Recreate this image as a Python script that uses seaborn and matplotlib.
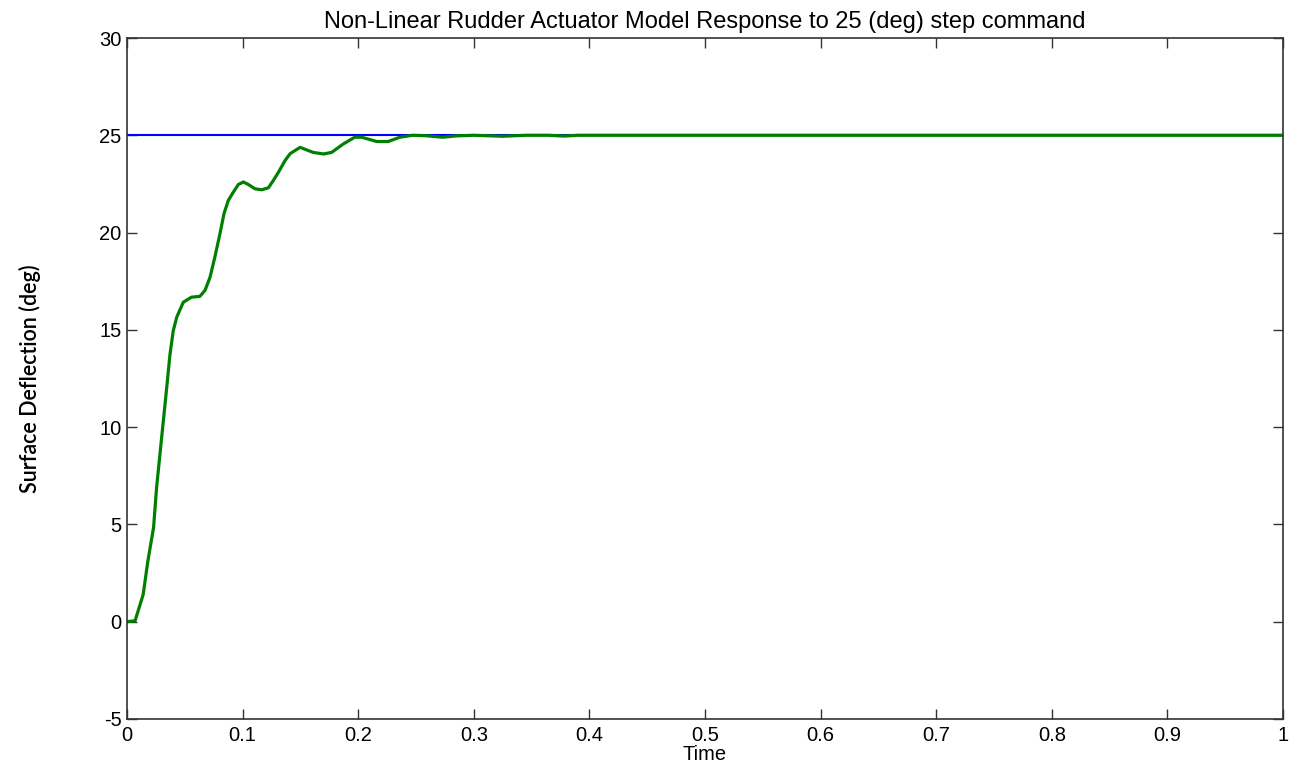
import matplotlib
matplotlib.use("Agg")
import matplotlib.pyplot as plt
import seaborn as sns
import pandas as pd

# Step command (deg)
cmd_time = [0.0, 1.0]
cmd_value = [25.0, 25.0]

# Actuator response (deg)
resp_time = [0.0, 0.007, 0.014, 0.018, 0.023, 0.0256, 0.0285, 0.0314, 0.0343,
             0.0372, 0.040, 0.043, 0.0487, 0.0558, 0.063, 0.0675, 0.0718, 0.076,
             0.0804, 0.0839, 0.0876, 0.092, 0.0963, 0.1007, 0.105, 0.1107,
             0.1165, 0.1223, 0.1266, 0.131, 0.1367, 0.141, 0.1497, 0.161, 0.170,
             0.177, 0.187, 0.197, 0.203, 0.216, 0.226, 0.236, 0.247, 0.258,
             0.273, 0.285, 0.300, 0.325, 0.345, 0.365, 0.378, 0.390, 1.0]
resp_value = [0.0, 0.05, 1.4, 3.1, 4.85, 6.9, 8.6, 10.3, 12.0,
              13.75, 14.95, 15.65, 16.42, 16.68, 16.72, 17.03, 17.7, 18.74,
              19.94, 20.97, 21.65, 22.08, 22.47, 22.6, 22.47, 22.25,
              22.2, 22.3, 22.68, 23.1, 23.7, 24.05, 24.38, 24.12, 24.04,
              24.12, 24.55, 24.9, 24.9, 24.68, 24.68, 24.9, 25.0, 24.98,
              24.9, 24.97, 25.0, 24.95, 25.0, 25.0, 24.96, 25.0, 25.0]

x_ticks = [0, 0.1, 0.2, 0.3, 0.4, 0.5, 0.6, 0.7, 0.8, 0.9, 1]
x_tick_labels = ["0", "0.1", "0.2", "0.3", "0.4", "0.5", "0.6", "0.7", "0.8", "0.9", "1"]
y_ticks = [-5, 0, 5, 10, 15, 20, 25, 30]

sns.set_style("white")
plt.rcParams['font.family'] = ['Liberation Sans', 'DejaVu Sans']
plt.rcParams['axes.unicode_minus'] = False
plt.rcParams['text.color'] = '#000000'
plt.rcParams['axes.labelcolor'] = '#000000'

fig = plt.figure(figsize=(12.93, 7.66), dpi=100)
ax = fig.add_axes([127/1293, 1 - 719/766, (1283 - 127)/1293, (719 - 38)/766])

cmd_df = pd.DataFrame({"t": cmd_time, "v": cmd_value})
resp_df = pd.DataFrame({"t": resp_time, "v": resp_value})
sns.lineplot(data=cmd_df, x="t", y="v", ax=ax, color="#0000ff", linewidth=1.5)
sns.lineplot(data=resp_df, x="t", y="v", ax=ax, color="#008000", linewidth=2.3)

ax.set_xlim(0, 1)
ax.set_ylim(-5, 30)
ax.set_xticks(x_ticks)
ax.set_xticklabels(x_tick_labels)
ax.set_yticks(y_ticks)
ax.tick_params(direction="in", length=7, width=1, colors="#333333",
               labelcolor="#000000", labelsize=14.5, top=True, right=True,
               bottom=True, left=True)
ax.tick_params(axis="x", pad=5)
ax.tick_params(axis="y", pad=4)
for s in ax.spines.values():
    s.set_color("#333333")
    s.set_linewidth(1.2)
    s.set_visible(True)

ax.set_title("Non-Linear Rudder Actuator Model Response to 25 (deg) step command",
             fontsize=17, pad=7, color="#000000")
ax.set_xlabel("Time", fontsize=14.5, labelpad=0)
ax.set_ylabel("Surface Deflection (deg)", fontsize=15.5, fontweight="semibold",
              family=['Lato', 'DejaVu Sans'], labelpad=42)

fig.savefig("out.png", dpi=100)
